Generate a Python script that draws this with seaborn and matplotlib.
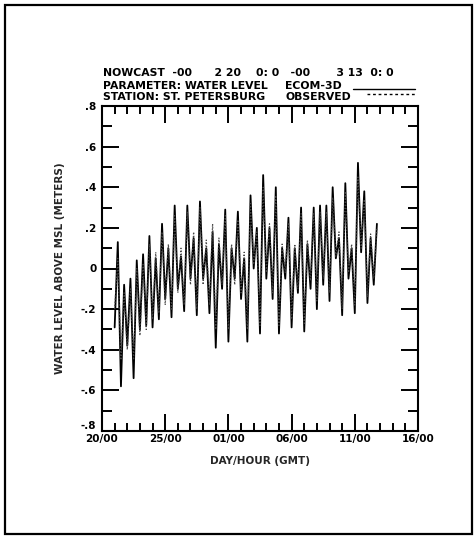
import matplotlib
matplotlib.use("Agg")
import matplotlib.pyplot as plt
import matplotlib.dates as mdates
from matplotlib.patches import Rectangle
from matplotlib.lines import Line2D
from matplotlib.ticker import MultipleLocator, FuncFormatter
import numpy as np
import pandas as pd
import seaborn as sns

# ---------------- data (6-hourly extremes) ----------------
start_time = "2000-02-21 00:00"
step = "6h"
ecom_3d = [-0.29, 0.13, -0.58, -0.08, -0.38, -0.05, -0.54, 0.04, -0.30, 0.07,
           -0.28, 0.16, -0.29, 0.05, -0.25, 0.22, -0.15, 0.10, -0.24, 0.31,
           -0.10, 0.06, -0.21, 0.31, -0.05, 0.15, -0.23, 0.33, -0.05, 0.10,
           -0.22, 0.18, -0.39, 0.12, -0.10, 0.29, -0.36, 0.10, -0.05, 0.28,
           -0.15, 0.05, -0.36, 0.36, 0.00, 0.20, -0.32, 0.46, -0.05, 0.20,
           -0.15, 0.40, -0.32, 0.10, -0.05, 0.25, -0.29, 0.10, -0.12, 0.30,
           -0.31, 0.12, -0.10, 0.30, -0.20, 0.31, -0.08, 0.31, -0.16, 0.40,
           0.05, 0.15, -0.23, 0.42, -0.05, 0.10, -0.22, 0.52, 0.08, 0.38,
           -0.17, 0.15, -0.08, 0.22]
observed = [-0.20, 0.05, -0.45, -0.12, -0.40, -0.10, -0.45, 0.00, -0.33, 0.02,
            -0.30, 0.12, -0.25, 0.08, -0.22, 0.18, -0.18, 0.12, -0.20, 0.26,
            -0.12, 0.10, -0.18, 0.28, -0.08, 0.18, -0.20, 0.30, -0.08, 0.14,
            -0.18, 0.22, -0.30, 0.15, -0.08, 0.26, -0.30, 0.12, -0.08, 0.24,
            -0.12, 0.08, -0.30, 0.32, 0.02, 0.18, -0.28, 0.40, -0.02, 0.22,
            -0.12, 0.36, -0.28, 0.12, -0.02, 0.22, -0.25, 0.12, -0.10, 0.27,
            -0.27, 0.14, -0.06, 0.27, -0.16, 0.28, -0.05, 0.28, -0.12, 0.35,
            0.06, 0.18, -0.20, 0.38, -0.02, 0.12, -0.18, 0.45, 0.10, 0.34,
            -0.14, 0.17, -0.05, 0.20]
x_start, x_end = "2000-02-20 00:00", "2000-03-16 00:00"
major_ticks = ["2000-02-20", "2000-02-25", "2000-03-01", "2000-03-06", "2000-03-11", "2000-03-16"]
y_ticks = [0.8, 0.6, 0.4, 0.2, 0.0, -0.2, -0.4, -0.6, -0.8]

title_line1 = "NOWCAST  -00      2 20    0: 0   -00       3 13  0: 0"
title_block = "PARAMETER: WATER LEVEL\nSTATION: ST. PETERSBURG"
legend_block = "ECOM-3D\nOBSERVED"
xlabel = "DAY/HOUR (GMT)"
ylabel = "WATER LEVEL ABOVE MSL (METERS)"

times = pd.date_range(start_time, periods=len(ecom_3d), freq=step)
df = pd.DataFrame({"time": times, "ECOM-3D": ecom_3d, "OBSERVED": observed})

# ---------------- figure ----------------
sns.set_style("ticks")
plt.rcParams["font.family"] = ["DejaVu Sans"]
plt.rcParams["font.weight"] = "bold"

W, H = 476, 538
fig = plt.figure(figsize=(W / 100, H / 100), dpi=100)
L, R, T, B = 102, 418, 106, 431
ax = fig.add_axes([L / W, 1 - B / H, (R - L) / W, (B - T) / H])

sns.lineplot(data=df, x="time", y="ECOM-3D", ax=ax, color="black", lw=1.3)
sns.lineplot(data=df, x="time", y="OBSERVED", ax=ax, color="#444444", lw=0.9,
             linestyle=(0, (1, 1.5)))

ax.set_xlim(pd.Timestamp(x_start), pd.Timestamp(x_end))
ax.set_ylim(-0.8, 0.8)

ax.set_xticks(pd.to_datetime(major_ticks))
ax.xaxis.set_major_formatter(mdates.DateFormatter("%d/%H"))
ax.xaxis.set_minor_locator(mdates.DayLocator())
ax.set_yticks(y_ticks)
ax.yaxis.set_minor_locator(MultipleLocator(0.1))


def yfmt(v, pos):
    if abs(v) < 1e-9:
        return "0"
    s = f"{v:.1f}"
    return s.replace("0.", ".")


ax.yaxis.set_major_formatter(FuncFormatter(yfmt))

for sp in ax.spines.values():
    sp.set_linewidth(1.5)
    sp.set_color("black")

ax.tick_params(axis="both", which="both", direction="in", top=True, right=True,
               width=1.4, color="black", labelsize=7.5, labelcolor="black")
ax.tick_params(axis="x", which="major", length=12, pad=2)
ax.tick_params(axis="x", which="minor", length=5.5)
ax.tick_params(axis="y", which="major", length=12, pad=4)
ax.tick_params(axis="y", which="minor", length=7)
fig.canvas.draw()
for lab in ax.get_xticklabels() + ax.get_yticklabels():
    lab.set_fontweight("bold")
ylabs = ax.get_yticklabels()
ylabs[-1].set_verticalalignment("bottom")

ax.set_xlabel(xlabel, fontsize=7.5, fontweight="bold", labelpad=9)
ax.set_ylabel(ylabel, fontsize=7.5, fontweight="bold")
ax.yaxis.set_label_coords(-(L - 65) / (R - L), 0.5)

# header texts
tk = dict(fontsize=7.8, fontweight="bold", color="black", va="center", ha="left")
fig.text(103 / W, 1 - 73 / H, title_line1, **tk)
fig.text(103 / W, 1 - 91.5 / H, title_block, linespacing=1.05, **tk)
fig.text(285 / W, 1 - 91.5 / H, legend_block, linespacing=1.05, **tk)
fig.add_artist(Line2D([353 / W, 415 / W], [1 - 89 / H] * 2, color="black", lw=1.0))
fig.add_artist(Line2D([367 / W, 415 / W], [1 - 94 / H] * 2, color="black", lw=1.0,
                      linestyle=(0, (2, 2))))

# outer frame
fig.add_artist(Rectangle((5 / W, 1 - 534 / H), (472 - 5) / W, (534 - 5) / H,
                         transform=fig.transFigure, fill=False, lw=1.6, ec="black"))

fig.savefig("out.png", dpi=100, facecolor="white")
